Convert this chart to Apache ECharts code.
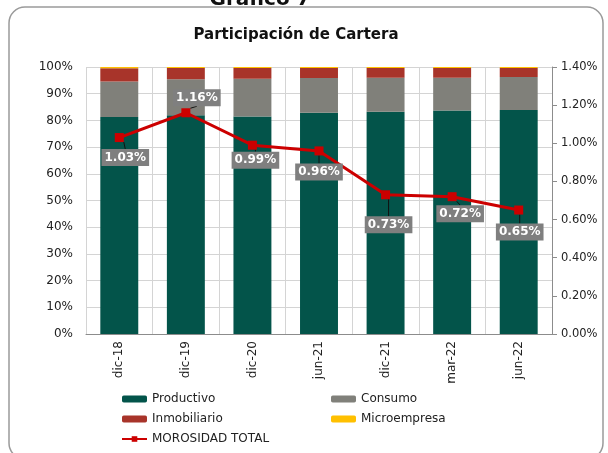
<!DOCTYPE html>
<html><head><meta charset="utf-8">
<script src="https://cdn.jsdelivr.net/npm/echarts@6/dist/echarts.min.js"></script>
<style>html,body{margin:0;padding:0;background:#fff}#c{width:608px;height:453px}</style>
</head><body><div id="c"></div>
<script>
var categories = ['dic-18','dic-19','dic-20','jun-21','dic-21','mar-22','jun-22'];
var productivo   = [81.3, 81.9, 81.5, 82.9, 83.2, 83.7, 83.9];
var consumo      = [13.3, 13.5, 14.1, 13.0, 12.8, 12.3, 12.4];
var inmobiliario = [4.9, 4.2, 4.0, 3.7, 3.6, 3.6, 3.3];
var microempresa = [0.5, 0.4, 0.4, 0.4, 0.4, 0.4, 0.4];
var morosidad    = [1.03, 1.16, 0.99, 0.96, 0.73, 0.72, 0.65];
var leftTicks = [0,10,20,30,40,50,60,70,80,90,100];
var labelOffsets = [[6,20],[11,-15],[3,15],[0,21],[3,30],[8,17],[1,22]];

var FONT = 'DejaVu Sans';
var chart = echarts.init(document.getElementById('c'), null, {renderer:'canvas'});
function barSeries(name, data, color){
  return {name:name, type:'bar', stack:'t', data:data, barWidth:'57%',
    itemStyle:{color:color}, emphasis:{disabled:true}};
}
var legendText = {fontFamily:FONT, fontSize:12, color:'#222'};
chart.setOption({
  animation:false,
  graphic:[
    {type:'rect', shape:{x:9, y:7, width:594, height:452, r:16},
     style:{fill:'none', stroke:'#9a9a9a', lineWidth:1.5}, z:-10},
    {type:'text', x:260, y:10, style:{text:'Gráfico 7', font:'bold 20px '+FONT, fill:'#111', align:'center', verticalAlign:'bottom'}}
  ],
  title:{text:'Participación de Cartera', left:291, top:23, textAlign:'center',
    textStyle:{fontFamily:FONT, fontSize:15, fontWeight:'bold', color:'#111'}},
  grid:{left:86, right:56, top:67, bottom:119},
  legend:[
    {data:['Productivo','Inmobiliario','MOROSIDAD TOTAL'], orient:'vertical', left:116, top:388,
     itemWidth:25, itemHeight:7, itemGap:8, itemTextGap:3, textStyle:legendText, selectedMode:false},
    {data:['Consumo','Microempresa'], orient:'vertical', left:326, top:388,
     itemWidth:25, itemHeight:7, itemGap:8, itemTextGap:3, textStyle:legendText, selectedMode:false}
  ],
  xAxis:{type:'category', data:categories,
    axisLine:{lineStyle:{color:'#8c8c8c', width:1}},
    axisTick:{show:false},
    axisLabel:{rotate:90, fontFamily:FONT, fontSize:12, color:'#222', margin:7},
    splitLine:{show:true, lineStyle:{color:'#d4d4d4', width:1}}},
  yAxis:[
    {type:'value', min:0, max:100, interval:10,
     axisLine:{show:false}, axisTick:{show:false},
     axisLabel:{formatter:function(v){return v+'%';}, fontFamily:FONT, fontSize:12, color:'#222', margin:13},
     splitLine:{lineStyle:{color:'#d4d4d4', width:1}}},
    {type:'value', min:0, max:1.4, interval:0.2, position:'right',
     axisLine:{show:true, lineStyle:{color:'#8c8c8c', width:1}},
     axisTick:{show:true, length:5, lineStyle:{color:'#8c8c8c'}},
     axisLabel:{formatter:function(v){return v.toFixed(2)+'%';}, fontFamily:FONT, fontSize:11.5, color:'#222', margin:9},
     splitLine:{show:false}}
  ],
  series:[
    barSeries('Productivo', productivo, '#03544a'),
    barSeries('Consumo', consumo, '#80807a'),
    barSeries('Inmobiliario', inmobiliario, '#a8342a'),
    barSeries('Microempresa', microempresa, '#ffc000'),
    {name:'MOROSIDAD TOTAL', type:'line', yAxisIndex:1, data:morosidad, z:5,
     symbol:'rect', symbolSize:9,
     lineStyle:{color:'#cc0000', width:3}, itemStyle:{color:'#cc0000'},
     emphasis:{disabled:true},
     label:{show:true, position:'inside', formatter:function(p){return p.value.toFixed(2)+'%';},
       fontFamily:FONT, fontSize:12, fontWeight:'bold', color:'#fff',
       backgroundColor:'#7f7f7f', padding:[3,3,2,3]},
     labelLine:{show:true, lineStyle:{color:'#111', width:1}},
     labelLayout:function(p){var o=labelOffsets[p.dataIndex]; return {dx:o[0], dy:o[1]};}
    }
  ]
});
</script></body></html>
